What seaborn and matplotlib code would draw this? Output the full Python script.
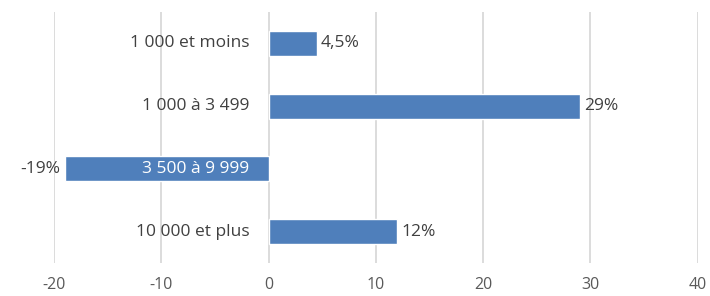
import matplotlib
matplotlib.use("Agg")
import matplotlib.pyplot as plt
import seaborn as sns
import pandas as pd
from matplotlib.transforms import offset_copy

categories = ["1 000 et moins", "1 000 à 3 499", "3 500 à 9 999", "10 000 et plus"]
values = [4.5, 29, -19, 12]
value_labels = ["4,5%", "29%", "-19%", "12%"]
x_ticks = [-20, -10, 0, 10, 20, 30, 40]

sns.set_theme(style="white")
plt.rcParams["font.family"] = ["Open Sans", "DejaVu Sans"]

df = pd.DataFrame({"cat": categories, "val": values})

fig = plt.figure(figsize=(7.1, 2.96), dpi=100)
ax = fig.add_axes([54/710, 1 - 263/296, (697.5 - 54)/710, (263 - 12)/296])

sns.barplot(data=df, x="val", y="cat", orient="h", color="#4f7fbb",
            width=0.4, ax=ax, saturation=1, zorder=3)

ax.set_xlim(-20, 40)
ax.set_xticks(x_ticks)
ax.set_xticklabels([str(t) for t in x_ticks], fontsize=11.5, color="#595959")
ax.grid(axis="x", color="#d9d9d9", linewidth=1.3, zorder=0)
ax.set_axisbelow(True)
for s in ax.spines.values():
    s.set_visible(False)
ax.tick_params(axis="both", length=0)
ax.tick_params(axis="x", pad=10)
ax.set_yticklabels([])
ax.set_xlabel("")
ax.set_ylabel("")

trans = offset_copy(ax.transData, fig=fig, x=-19, y=0, units="dots")
for i, (c, v) in enumerate(zip(categories, values)):
    ax.text(0, i, c, transform=trans, ha="right", va="center",
            fontsize=12.5, color="white" if v < 0 else "#404040", zorder=5)

ax.bar_label(ax.containers[0], labels=value_labels, padding=3,
             fontsize=12.5, color="#404040")

fig.savefig("out.png", dpi=100)
